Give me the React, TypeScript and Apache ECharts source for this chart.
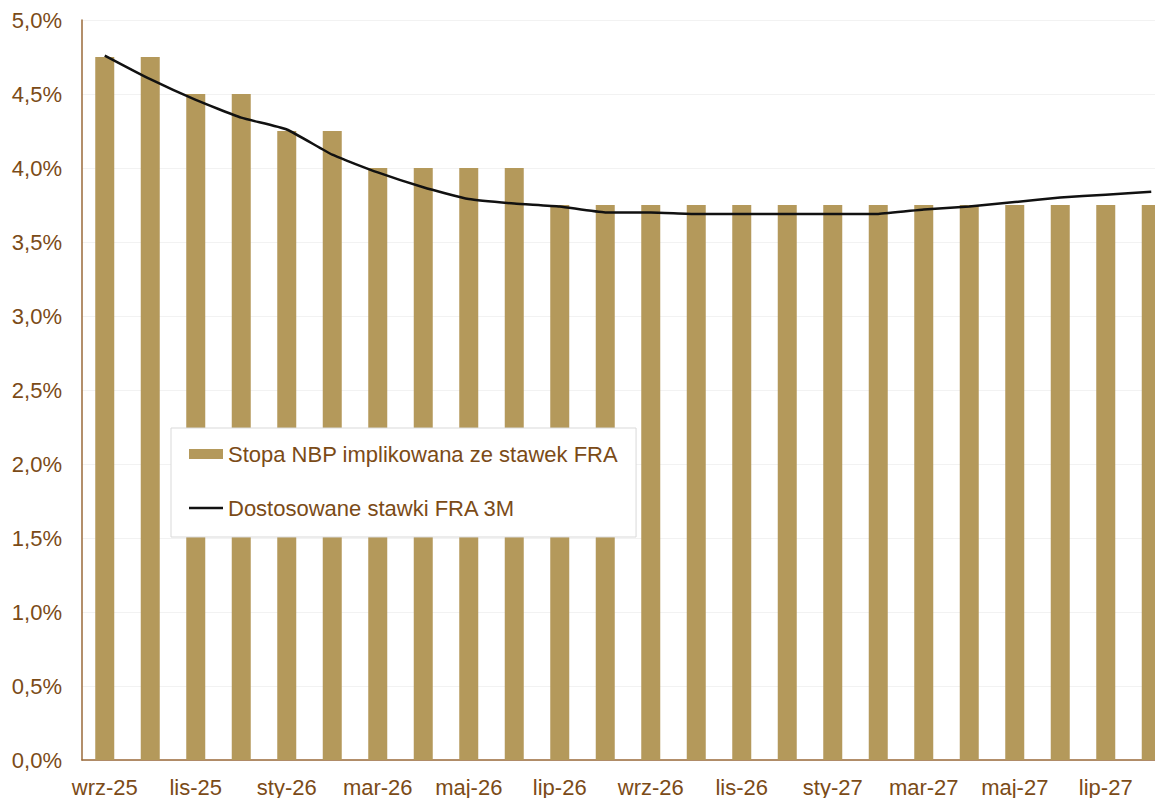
import React, { useEffect, useRef } from "react";
import * as echarts from "echarts";

const categories = [
  "wrz-25", "paź-25", "lis-25", "gru-25", "sty-26", "lut-26", "mar-26", "kwi-26",
  "maj-26", "cze-26", "lip-26", "sie-26", "wrz-26", "paź-26", "lis-26", "gru-26",
  "sty-27", "lut-27", "mar-27", "kwi-27", "maj-27", "cze-27", "lip-27", "sie-27",
];

const nbpRate = [
  4.75, 4.75, 4.5, 4.5, 4.25, 4.25, 4.0, 4.0,
  4.0, 4.0, 3.75, 3.75, 3.75, 3.75, 3.75, 3.75,
  3.75, 3.75, 3.75, 3.75, 3.75, 3.75, 3.75, 3.75,
];

const fra3m = [
  4.76, 4.6, 4.46, 4.34, 4.26, 4.09, 3.97, 3.87,
  3.79, 3.76, 3.74, 3.7, 3.7, 3.69, 3.69, 3.69,
  3.69, 3.69, 3.72, 3.74, 3.77, 3.8, 3.82, 3.84,
];

const seriesNames = ["Stopa NBP implikowana ze stawek FRA", "Dostosowane stawki FRA 3M"];

const TEXT = "#7b4b17";
const AXIS = "#9a6a3a";
const BAR = "#b4995b";
const FONT = "Arial, 'Liberation Sans', sans-serif";

export default function App() {
  const ref = useRef<HTMLDivElement>(null);

  useEffect(() => {
    if (!ref.current) return;
    const chart = echarts.init(ref.current, undefined, { renderer: "svg" });
    chart.setOption({
      animation: false,
      backgroundColor: "#ffffff",
      textStyle: { fontFamily: FONT },
      grid: { left: 82, top: 20, width: 1092, height: 745, containLabel: false },
      legend: {
        orient: "vertical",
        left: 171,
        top: 428,
        padding: [13, 18, 16, 18],
        itemGap: 28,
        itemWidth: 34,
        itemHeight: 10,
        backgroundColor: "#ffffff",
        borderColor: "#d9d9d9",
        borderWidth: 1,
        textStyle: { color: TEXT, fontSize: 22, fontFamily: FONT, lineHeight: 26 },
        data: [
          { name: seriesNames[0], icon: "rect" },
          { name: seriesNames[1], icon: "path://M0,0 L34,0 L34,2.5 L0,2.5 Z" },
        ],
      },
      xAxis: {
        type: "category",
        data: categories,
        boundaryGap: true,
        axisLine: { show: true, lineStyle: { color: AXIS, width: 1.5 } },
        axisTick: { show: false },
        axisLabel: {
          interval: 1,
          color: TEXT,
          fontSize: 22,
          fontFamily: FONT,
          margin: 16,
        },
        splitLine: { show: false },
      },
      yAxis: {
        type: "value",
        min: 0,
        max: 5,
        interval: 0.5,
        axisLine: { show: true, lineStyle: { color: AXIS, width: 1.5 } },
        axisTick: { show: false },
        axisLabel: {
          color: TEXT,
          fontSize: 22,
          fontFamily: FONT,
          margin: 20,
          formatter: (v: number) => v.toFixed(1).replace(".", ",") + "%",
        },
        splitLine: { show: true, lineStyle: { color: "#f2f2f2", width: 1 } },
      },
      series: [
        {
          name: seriesNames[0],
          type: "bar",
          data: nbpRate,
          barWidth: 19,
          itemStyle: { color: BAR },
        },
        {
          name: seriesNames[1],
          type: "line",
          data: fra3m,
          symbol: "none",
          smooth: 0.15,
          lineStyle: { color: "#111111", width: 2.5 },
          itemStyle: { color: "#111111" },
        },
      ],
    });
    return () => chart.dispose();
  }, []);

  return (
    <div
      style={{
        position: "fixed",
        left: 0,
        top: 0,
        width: 1155,
        height: 798,
        overflow: "hidden",
        background: "#fff",
      }}
    >
      <div ref={ref} style={{ width: 1180, height: 798 }} />
    </div>
  );
}
